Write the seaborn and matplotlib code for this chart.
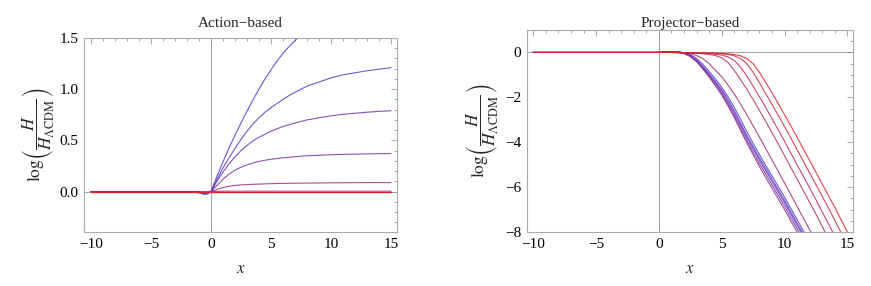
import matplotlib
matplotlib.use("Agg")
import matplotlib.pyplot as plt
from matplotlib.ticker import MultipleLocator
import pandas as pd
import seaborn as sns

# ---------------- data ----------------
curve_names = ["c0", "c1", "c2", "c3", "c4", "c5", "c6", "c7", "c8", "c9"]

# Left panel: Action-based
x_left = [-10, -2, -1.5, -1, -0.5, -0.25, 0, 0.25, 0.5, 1, 1.5, 2, 2.5, 3, 3.5, 4, 4.5, 5, 5.5, 6,
          6.5, 7, 7.5, 8, 9, 10, 11, 12, 13, 14, 15]
left_c0 = [0, 0, -0.004, -0.013, -0.028, -0.022, 0, 0.075, 0.15, 0.29, 0.425, 0.55, 0.67, 0.785, 0.895, 1.0,
           1.10, 1.19, 1.275, 1.35, 1.415, 1.475, 1.53, 1.58, 1.68, 1.77, 1.85, 1.92, 1.98, 2.04, 2.09]
left_c1 = [0, 0, -0.003, -0.010, -0.022, -0.018, 0, 0.06, 0.12, 0.23, 0.33, 0.42, 0.51, 0.59, 0.66, 0.72,
           0.775, 0.82, 0.86, 0.90, 0.937, 0.97, 1.0, 1.03, 1.07, 1.11, 1.14, 1.16, 1.18, 1.195, 1.21]
left_c2 = [0, 0, -0.002, -0.008, -0.018, -0.014, 0, 0.05, 0.10, 0.19, 0.27, 0.34, 0.40, 0.45, 0.495, 0.53,
           0.56, 0.59, 0.613, 0.635, 0.653, 0.67, 0.685, 0.70, 0.72, 0.74, 0.755, 0.765, 0.775, 0.783, 0.79]
left_c3 = [0, 0, -0.001, -0.005, -0.012, -0.009, 0, 0.03, 0.06, 0.12, 0.17, 0.21, 0.238, 0.26, 0.279, 0.295,
           0.306, 0.315, 0.323, 0.33, 0.335, 0.34, 0.345, 0.35, 0.355, 0.36, 0.363, 0.366, 0.368, 0.37, 0.371]
left_c4 = [0, 0, 0, -0.002, -0.006, -0.004, 0, 0.01, 0.02, 0.04, 0.052, 0.06, 0.065, 0.068, 0.071, 0.073,
           0.075, 0.077, 0.079, 0.08, 0.081, 0.082, 0.0825, 0.083, 0.084, 0.085, 0.086, 0.087, 0.087, 0.088, 0.088]
left_c5 = [0, 0, 0, -0.001, -0.002, -0.001, 0, 0.001, 0.002, 0.003, 0.004, 0.004, 0.004, 0.004, 0.004, 0.004,
           0.004, 0.004, 0.004, 0.004, 0.004, 0.004, 0.004, 0.004, 0.004, 0.004, 0.004, 0.004, 0.004, 0.004, 0.004]
left_c6 = [0, 0, 0, 0, 0, 0, 0, 0, 0, 0, 0, 0, 0, 0, 0, 0, 0, 0, 0, 0, 0, 0, 0, 0, 0, 0, 0, 0, 0, 0, 0]
left_c7 = [0, 0, 0, 0, 0, 0, 0, 0, 0, 0, 0, 0, 0, 0, 0, 0, 0, 0, 0, 0, 0, 0, 0, 0, 0, 0, 0, 0, 0, 0, 0]
left_c8 = [0, 0, 0, 0, 0, 0, 0, 0, 0, 0, 0, 0, 0, 0, 0, 0, 0, 0, 0, 0, 0, 0, 0, 0, 0, 0, 0, 0, 0, 0, 0]
left_c9 = [0, 0, 0, 0, 0, 0, 0, 0, 0, 0, 0, 0, 0, 0, 0, 0, 0, 0, 0, 0, 0, 0, 0, 0, 0, 0, 0, 0, 0, 0, 0]

# Right panel: Projector-based
x_right = [-10, 0, 0.5, 1, 1.5, 2, 2.5, 3, 3.5, 4, 4.5, 5, 5.5, 6, 6.5, 7, 7.5, 8, 8.5, 9, 9.5,
           10, 10.5, 11, 11.5, 12, 12.5, 13, 13.5, 14, 14.5, 15]
right_c0 = [0, 0, 0.02, 0.04, 0.035, -0.01, -0.10, -0.27, -0.53, -0.85, -1.18, -1.55, -1.97, -2.45, -2.98, -3.53, -4.05, -4.55, -5.03, -5.50, -5.97, -6.45, -6.95, -7.45, -7.95, -8.45, -8.95, -9.45, -9.95, -10.45, -10.95, -11.45]
right_c1 = [0, 0, 0.02, 0.04, 0.03, -0.03, -0.14, -0.33, -0.62, -0.95, -1.29, -1.66, -2.10, -2.60, -3.15, -3.70, -4.20, -4.70, -5.17, -5.65, -6.12, -6.60, -7.10, -7.60, -8.10, -8.60, -9.10, -9.60, -10.10, -10.60, -11.10, -11.60]
right_c2 = [0, 0, 0.02, 0.035, 0.025, -0.03, -0.16, -0.37, -0.67, -1.00, -1.35, -1.74, -2.20, -2.70, -3.25, -3.80, -4.30, -4.80, -5.27, -5.75, -6.22, -6.70, -7.20, -7.70, -8.20, -8.70, -9.20, -9.70, -10.20, -10.70, -11.20, -11.70]
right_c3 = [0, 0, 0.015, 0.03, 0.02, -0.04, -0.17, -0.39, -0.71, -1.06, -1.42, -1.83, -2.30, -2.82, -3.38, -3.93, -4.44, -4.94, -5.42, -5.90, -6.37, -6.85, -7.35, -7.85, -8.35, -8.85, -9.35, -9.85, -10.35, -10.85, -11.35, -11.85]
right_c4 = [0, 0, 0.015, 0.03, 0.015, -0.04, -0.18, -0.41, -0.74, -1.10, -1.48, -1.90, -2.38, -2.90, -3.47, -4.03, -4.56, -5.08, -5.57, -6.05, -6.52, -7.00, -7.50, -8.00, -8.50, -9.00, -9.50, -10.00, -10.50, -11.00, -11.50, -12.00]
right_c5 = [0, 0, 0.01, 0.01, 0.0, -0.02, -0.06, -0.14, -0.28, -0.50, -0.80, -1.08, -1.45, -1.85, -2.30, -2.78, -3.27, -3.77, -4.28, -4.79, -5.30, -5.82, -6.34, -6.86, -7.38, -7.90, -8.42, -8.94, -9.46, -9.98, -10.50, -11.02]
right_c6 = [0, 0, 0, 0, -0.01, -0.02, -0.03, -0.04, -0.06, -0.09, -0.14, -0.24, -0.45, -0.80, -1.22, -1.63, -2.10, -2.58, -3.07, -3.57, -4.08, -4.60, -5.12, -5.64, -6.16, -6.68, -7.20, -7.75, -8.30, -8.85, -9.40, -9.95]
right_c7 = [0, 0, 0, 0, -0.01, -0.02, -0.03, -0.035, -0.04, -0.05, -0.08, -0.12, -0.20, -0.36, -0.65, -1.05, -1.50, -1.97, -2.45, -2.95, -3.45, -3.96, -4.48, -5.00, -5.52, -6.04, -6.56, -7.10, -7.64, -8.18, -8.73, -9.28]
right_c8 = [0, 0, 0, 0, -0.01, -0.01, -0.02, -0.02, -0.03, -0.035, -0.04, -0.06, -0.09, -0.15, -0.27, -0.50, -0.88, -1.35, -1.83, -2.31, -2.80, -3.30, -3.81, -4.33, -4.85, -5.37, -5.89, -6.41, -6.93, -7.48, -8.03, -8.58]
right_c9 = [0, 0, 0, 0, -0.005, -0.01, -0.015, -0.02, -0.025, -0.03, -0.035, -0.04, -0.06, -0.09, -0.15, -0.27, -0.50, -0.88, -1.33, -1.80, -2.28, -2.77, -3.27, -3.78, -4.30, -4.82, -5.34, -5.86, -6.38, -6.90, -7.45, -8.00]

left_curves = [left_c0, left_c1, left_c2, left_c3, left_c4, left_c5, left_c6, left_c7, left_c8, left_c9]
right_curves = [right_c0, right_c1, right_c2, right_c3, right_c4, right_c5, right_c6, right_c7, right_c8, right_c9]

# ---------------- style ----------------
sns.set_theme(style="white")
plt.rcParams["font.family"] = ["Liberation Serif", "DejaVu Serif"]
plt.rcParams["mathtext.fontset"] = "stix"
plt.rcParams["axes.unicode_minus"] = True

palette = sns.blend_palette(["#4a3ad6", "#e3202a"], n_colors=len(curve_names))


def long_df(xs, curves):
    rows = []
    for name, ys in zip(curve_names, curves):
        for xv, yv in zip(xs, ys):
            rows.append({"x": xv, "y": yv, "curve": name})
    return pd.DataFrame(rows)


fig = plt.figure(figsize=(8.71, 2.86), dpi=100)
axL = fig.add_axes([84 / 871, 54 / 286, 313 / 871, 194 / 286])
axR = fig.add_axes([527 / 871, 54 / 286, 326 / 871, 202 / 286])

frame_col = "#aaaaaa"
tick_col = "#999999"

for ax, xs, curves in [(axL, x_left, left_curves), (axR, x_right, right_curves)]:
    ax.axhline(0, color="#a0a0a0", lw=0.7, zorder=0.5)
    ax.axvline(0, color="#a0a0a0", lw=0.7, zorder=0.5)
    sns.lineplot(data=long_df(xs, curves), x="x", y="y", hue="curve",
                 hue_order=curve_names, palette=palette, estimator=None,
                 sort=False, legend=False, linewidth=0.8, alpha=0.85, ax=ax)
    for sp in ax.spines.values():
        sp.set_color(frame_col)
        sp.set_linewidth(0.8)
    ax.tick_params(which="both", direction="in", top=True, right=True,
                   color=tick_col, width=0.6, labelsize=11, labelcolor="black")
    ax.tick_params(which="major", length=4, pad=4)
    ax.tick_params(which="minor", length=2)
    ax.xaxis.set_major_locator(MultipleLocator(5))
    ax.xaxis.set_minor_locator(MultipleLocator(1))
    ax.set_xlabel("$x$", fontsize=12)
    ax.set_ylabel(r"$\log\!\left(\dfrac{H}{H_{\Lambda\mathrm{CDM}}}\right)$", fontsize=12.5)

axL.set_xlim(-10.58, 15.5)
axL.set_ylim(-0.395, 1.5)
axL.yaxis.set_major_locator(MultipleLocator(0.5))
axL.yaxis.set_minor_locator(MultipleLocator(0.1))
axL.set_title("Action\u2212based", fontsize=11, pad=8)
axL.yaxis.set_label_coords(-0.088, 0.5)
axL.xaxis.set_label_coords(0.5, -0.15)

axR.set_xlim(-10.5, 15.45)
axR.set_ylim(-8, 1.0)
axR.yaxis.set_major_locator(MultipleLocator(2))
axR.yaxis.set_minor_locator(MultipleLocator(0.5))
axR.set_title("Projector\u2212based", fontsize=11, pad=2)
axR.yaxis.set_label_coords(-0.084, 0.5)
axR.xaxis.set_label_coords(0.5, -0.145)

fig.savefig("out.png", dpi=100)
